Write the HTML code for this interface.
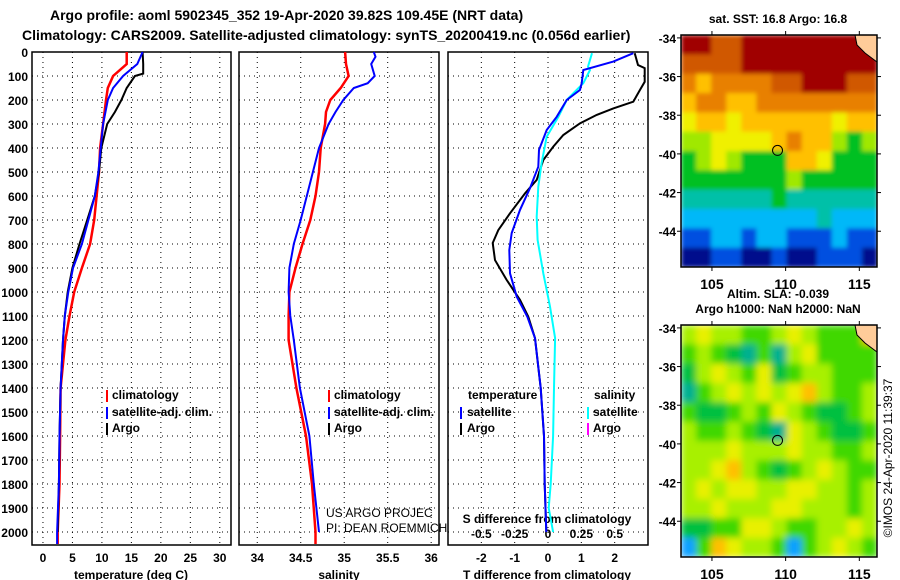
<!DOCTYPE html>
<html><head><meta charset="utf-8"><style>
html,body{margin:0;padding:0;background:#fff;width:900px;height:580px;overflow:hidden}
svg{display:block;font-family:"Liberation Sans",Arial,sans-serif}
.b{font-weight:bold;font-size:12px}
.t{font-weight:bold;font-size:14px}
</style></head><body>
<svg id="c" width="900" height="580" viewBox="0 0 900 580">
<defs>
<filter id="blur" x="0" y="0" width="1" height="1"><feGaussianBlur stdDeviation="3.5" edgeMode="duplicate"/></filter>
<filter id="blur2" x="0" y="0" width="1" height="1"><feGaussianBlur stdDeviation="2" edgeMode="duplicate"/></filter>
<clipPath id="clip1"><rect x="681" y="35" width="196" height="232"/></clipPath>
<clipPath id="clip2"><rect x="681" y="325" width="196" height="232"/></clipPath>
</defs>
<text class="t" x="50" y="20">Argo profile: aoml 5902345_352 19-Apr-2020 39.82S 109.45E (NRT data)</text>
<text class="t" x="22" y="40">Climatology: CARS2009. Satellite-adjusted climatology: synTS_20200419.nc (0.056d earlier)</text>
<g id="g"></g>
</svg>
<script>
// depth ticks
const depthTicks=[0,100,200,300,400,500,600,700,800,900,1000,1100,1200,1300,1400,1500,1600,1700,1800,1900,2000];
// temperature panel
const tTicks=[0,5,10,15,20,25,30];
const tDepth=[0,50,100,150,200,300,400,500,600,700,800,900,1000,1100,1200,1400,1600,1800,2000,2050];
const tClim=[14.2,14.2,11.9,11.0,10.7,10.2,9.7,9.5,9.1,8.7,8.0,6.6,5.3,4.5,3.8,3.0,2.9,2.8,2.5,2.5];
const tSat=[16.9,16.0,13.6,11.9,11.0,10.2,9.8,9.4,8.8,7.7,6.6,5.1,4.3,3.7,3.4,3.0,2.8,2.7,2.4,2.4];
const argoDepthT=[0,50,90,100,150,200,250,300,400,500,600,700,800,900,1000,1100,1200,1400,1600,1800,2000];
const tArgo=[16.9,17.0,17.0,15.6,14.2,13.3,12.2,10.9,9.9,9.5,8.8,7.5,6.2,5.0,4.2,3.7,3.4,3.0,2.8,2.7,2.5];
// salinity panel
const sTicks=[34,34.5,35,35.5,36];
const sTickLabels=["34","34.5","35","35.5","36"];
const sDepthClim=[0,50,100,150,200,250,300,400,500,600,700,800,900,1000,1100,1200,1400,1600,1800,2000,2050];
const sClim=[35.01,35.02,35.05,34.96,34.84,34.79,34.78,34.73,34.71,34.67,34.61,34.52,34.44,34.37,34.36,34.36,34.45,34.56,34.63,34.67,34.67];
const sDepthSat=[0,20,50,100,130,150,200,250,300,400,500,600,700,800,900,1000,1100,1200,1400,1600,1800,2000];
const sSat=[35.34,35.36,35.31,35.35,35.27,35.11,34.99,34.90,34.82,34.71,34.64,34.57,34.50,34.42,34.37,34.36,34.38,34.42,34.49,34.60,34.65,34.71];
// difference panel
const dTicks=[-2,-1,0,1,2];
const dsTicks=[-0.5,-0.25,0,0.25,0.5];
const dsTickLabels=["-0.5","-0.25","0","0.25","0.5"];
const dDepthSat=[5,40,75,130,158,200,270,325,408,478,567,658,754,825,922,1019,1103,1192,1400,1600,1800,2000];
const dTSat=[2.56,1.96,1.06,1.01,0.96,0.56,0.26,-0.04,-0.27,-0.29,-0.54,-0.84,-1.09,-1.16,-1.14,-0.94,-0.62,-0.39,-0.22,-0.12,-0.10,-0.05];
const dDepthArgo=[5,54,67,124,158,207,235,262,297,346,394,450,533,589,672,742,796,867,950,1033,1103,1192,1400,1600,1800,2000];
const dTArgo=[2.6,2.7,2.9,2.9,2.76,2.56,1.96,1.46,0.96,0.46,0.16,-0.14,-0.34,-0.69,-1.14,-1.49,-1.66,-1.59,-1.24,-0.84,-0.59,-0.39,-0.22,-0.12,-0.10,-0.05];
const dDepthS=[5,61,75,130,200,270,353,463,561,686,783,922,1061,1192,1400,1600,1800,1900,2000];
const dSSat=[0.33,0.30,0.315,0.265,0.14,0.078,-0.01,-0.048,-0.073,-0.085,-0.078,-0.035,0.015,0.053,0.045,0.038,0.02,0.005,0.038];
// maps
const lonTicks=[105,110,115];
const latTicks=[-34,-36,-38,-40,-42,-44];
const argoLon=109.45, argoLat=-39.82;
const sstGrid=[
[10,10,9,9,10,10,10,10,10,10,10,10,10],
[9,9,9,9,10,10,10,10,10,10,10,10,10],
[8,7,8,8,8,8,9,9,10,10,10,9,9],
[7,8,8,7,7,8,8,8,8,8,8,8,8],
[6,7,7,6,7,7,7,7,7,7,6,7,7],
[5,5,6,6,6,6,7,8,7,7,5,4,5],
[4,5,6,5,4,4,4,7,7,6,4,4,4],
[4,4,4,4,4,4,4,5,4,4,4,4,4],
[3,3,3,3,3,3,4,3,3,3,3,3,3],
[2,2,2,2,2,2,2,2,2,3,2,2,2],
[1,1,2,2,1,2,2,1,1,1,2,1,1],
[0,0,1,1,0,0,1,0,0,1,1,1,0]];
const slaGrid=[
[4,5,4,4,3,3,4,5,4,3,3,3,6],
[3,4,3,2,1,3,1,4,5,3,3,3,3],
[2,4,5,4,3,5,2,3,4,4,3,3,3],
[1,3,4,5,4,5,4,5,6,4,3,3,4],
[3,2,2,3,4,3,5,4,3,2,2,3,4],
[4,3,3,4,3,2,1,5,4,3,2,2,3],
[4,4,4,5,4,4,4,5,4,4,3,3,4],
[4,4,5,6,4,3,2,3,4,5,4,3,3],
[4,5,4,5,5,4,4,5,5,4,4,3,4],
[4,4,5,4,4,4,5,5,4,4,4,3,4],
[2,2,3,3,5,5,4,3,3,4,4,5,4],
[0,3,6,5,4,4,3,0,3,4,5,4,3]];

const sstPal=["#00108c","#0050e0","#00b8f8","#00c0a8","#00c020","#a0e800","#f0f000","#ffc000","#e88000","#d05800","#a00000"];
const slaPal=["#10a0ff","#00b090","#00c040","#40d800","#a8f000","#e8f000","#ffc000"];
const NS="http://www.w3.org/2000/svg";
const G=document.getElementById('g');
function el(tag,at,txt,parent){const e=document.createElementNS(NS,tag);for(const k in at)e.setAttribute(k,at[k]);if(txt!==undefined)e.textContent=txt;(parent||G).appendChild(e);return e;}
const Y=d=>52+d*0.24;
const P1={x0:32,x1:231,d0:-1.86,d1:31.9};
const P2={x0:239,x1:439,d0:33.79,d1:36.09};
const P3={x0:448,x1:648,d0:-3,d1:3};
function sx(P,v){return P.x0+(v-P.d0)/(P.d1-P.d0)*(P.x1-P.x0);}
function panel(P,ticks,name){
  for(const d of depthTicks){const l=el('line',{x1:P.x0,x2:P.x1,y1:Y(d),y2:Y(d),stroke:'#000','stroke-width':1,'stroke-dasharray':'1,4'});
  }
  for(const v of ticks){const x=sx(P,v);const l=el('line',{x1:x,x2:x,y1:52,y2:545,stroke:'#000','stroke-width':1,'stroke-dasharray':'1,4'});
  }
  const r=el('rect',{x:P.x0,y:52,width:P.x1-P.x0,height:493,fill:'none',stroke:'#000','stroke-width':1.5});
  
}
function line(P,xs,ds,color,name,w){
  const pts=xs.map((v,i)=>sx(P,v).toFixed(1)+','+Y(ds[i]).toFixed(1)).join(' ');
  const p=el('polyline',{points:pts,fill:'none',stroke:color,'stroke-width':w||2});
  
}
function xlabels(P,ticks,labels,y,name){ticks.forEach((v,i)=>{const t=el('text',{x:sx(P,v),y:y,'text-anchor':'middle',class:'b'},labels?labels[i]:String(v));
  });}
function txt(x,y,s,name,cls,anchor){const t=el('text',{x:x,y:y,class:cls||'b','text-anchor':anchor||'start'},s);return t;}
function bar(x,y,c,name){const r=el('rect',{x:x,y:y-10,width:2,height:12,fill:c});}

panel(P1,tTicks,'temp');panel(P2,sTicks,'sal');panel(P3,dTicks,'diff');
for(const d of depthTicks){txt(28,Y(d)+5,String(d),'depth-tick-label','b','end');}
xlabels(P1,tTicks,null,562,'temp-tick-label');
xlabels(P2,sTicks,sTickLabels,562,'sal-tick-label');
xlabels(P3,dTicks,null,562,'tdiff-tick-label');
dsTicks.forEach((v,i)=>{const t=el('text',{x:sx(P3,v*4),y:538,'text-anchor':'middle',class:'b'},dsTickLabels[i]);});
txt(131,579,'temperature (deg C)','temp-axis-title','b','middle');
txt(339,579,'salinity','sal-axis-title','b','middle');
txt(547,579,'T difference from climatology','tdiff-axis-title','b','middle');
txt(547,523,'S difference from climatology','sdiff-axis-title','b','middle');

line(P1,tClim,tDepth,'#f00','temp-climatology-line',2.5);
line(P1,tArgo,argoDepthT,'#000','temp-argo-line');
line(P1,tSat,tDepth,'#00f','temp-satellite-line');
line(P2,sClim,sDepthClim,'#f00','sal-climatology-line',2.5);
line(P2,sSat,sDepthSat,'#00f','sal-satellite-line');
line(P3,dTArgo,dDepthArgo,'#000','tdiff-argo-line');
line(P3,dSSat.map(v=>v*4),dDepthS,'#00ffff','sdiff-satellite-line');
line(P3,dTSat,dDepthSat,'#00f','tdiff-satellite-line');

// legends
bar(106,400,'#f00','legend-climatology-swatch');txt(112,399,'climatology','legend-climatology');
bar(106,417,'#00f','legend-satellite-swatch');txt(112,416,'satellite-adj. clim.','legend-satellite');
bar(106,433,'#000','legend-argo-swatch');txt(112,432,'Argo','legend-argo');
bar(328,400,'#f00','legend2-climatology-swatch');txt(334,399,'climatology','legend2-climatology');
bar(328,417,'#00f','legend2-satellite-swatch');txt(334,416,'satellite-adj. clim.','legend2-satellite');
bar(328,433,'#000','legend2-argo-swatch');txt(334,432,'Argo','legend2-argo');
txt(468,399,'temperature','legend3-temperature-head');txt(594,399,'salinity','legend3-salinity-head');
bar(460,417,'#00f','legend3-tsat-swatch');txt(467,416,'satellite','legend3-tsat');
bar(460,433,'#000','legend3-targo-swatch');txt(467,432,'Argo','legend3-targo');
bar(587,417,'#00ffff','legend3-ssat-swatch');txt(593,416,'satellite','legend3-ssat');
bar(587,433,'#ff00ff','legend3-sargo-swatch');txt(593,432,'Argo','legend3-sargo');
const c1=txt(326,517,'US ARGO PROJEC','credit-project');c1.setAttribute('style','font-size:12px;font-weight:normal');
const c2=txt(326,532,'PI: DEAN ROEMMICH','credit-pi');c2.setAttribute('style','font-size:12px;font-weight:normal');

// maps
function map(y0,grid,pal,name,blurId,clipId){
  const x0=681,x1=877,y1=y0+232,lon0=102.9,lon1=116.2,lat0=-33.85,lat1=-45.85;
  const mx=v=>x0+(v-lon0)/(lon1-lon0)*(x1-x0), my=v=>y0+(v-lat0)/(lat1-lat0)*(y1-y0);
  const rows=grid.length, cols=grid[0].length;
  const cw=(x1-x0)/cols, ch=(y1-y0)/rows;
  const cg=el('g',{'clip-path':'url(#'+clipId+')'});
  const bg=el('g',{filter:'url(#'+blurId+')'},undefined,cg);
  grid.forEach((row,i)=>row.forEach((v,j)=>{
    const r=el('rect',{x:(x0+j*cw).toFixed(2),y:(y0+i*ch).toFixed(2),width:(cw+0.6).toFixed(2),height:(ch+0.6).toFixed(2),fill:pal[v]},undefined,bg);
    
    }));
  const land=el('path',{d:`M${x1-22},${y0} L${x1-20},${y0+10} L${x1-12},${y0+18} L${x1},${y0+27} L${x1},${y0} Z`,fill:'#ffcc99',stroke:'#000','stroke-width':1});
  
  const f=el('rect',{x:x0,y:y0,width:x1-x0,height:y1-y0,fill:'none',stroke:'#000','stroke-width':1.5});
  
  for(const v of lonTicks){const x=mx(v);el('line',{x1:x,x2:x,y1:y0-4,y2:y0,stroke:'#000'});el('line',{x1:x,x2:x,y1:y1,y2:y1+4,stroke:'#000'});
    txt(x,y1+22,String(v),name+'-lon-label','t','middle');}
  for(const v of latTicks){const y=my(v);el('line',{x1:x0-4,x2:x0,y1:y,y2:y,stroke:'#000'});el('line',{x1:x1,x2:x1+4,y1:y,y2:y,stroke:'#000'});
    txt(x0-5,y+5,String(v),name+'-lat-label','b','end');}
  const c=el('circle',{cx:mx(argoLon),cy:my(argoLat),r:5,fill:'none',stroke:'#000','stroke-width':1});
  
}
map(35,sstGrid,sstPal,'sst-map','blur2','clip1');
map(325,slaGrid,slaPal,'sla-map','blur','clip2');
txt(778,23,'sat. SST: 16.8 Argo: 16.8','sst-map-title','b','middle');
txt(778,298,'Altim. SLA: -0.039','sla-map-title','b','middle');
txt(778,313,'Argo h1000: NaN h2000: NaN','sla-map-subtitle','b','middle');
const r=txt(0,0,'©IMOS 24-Apr-2020 11:39:37','imos-stamp','b','middle');
r.setAttribute('style','font-size:12px;font-weight:normal');
r.setAttribute('transform','translate(892,458) rotate(-90)');
</script>
</body></html>
